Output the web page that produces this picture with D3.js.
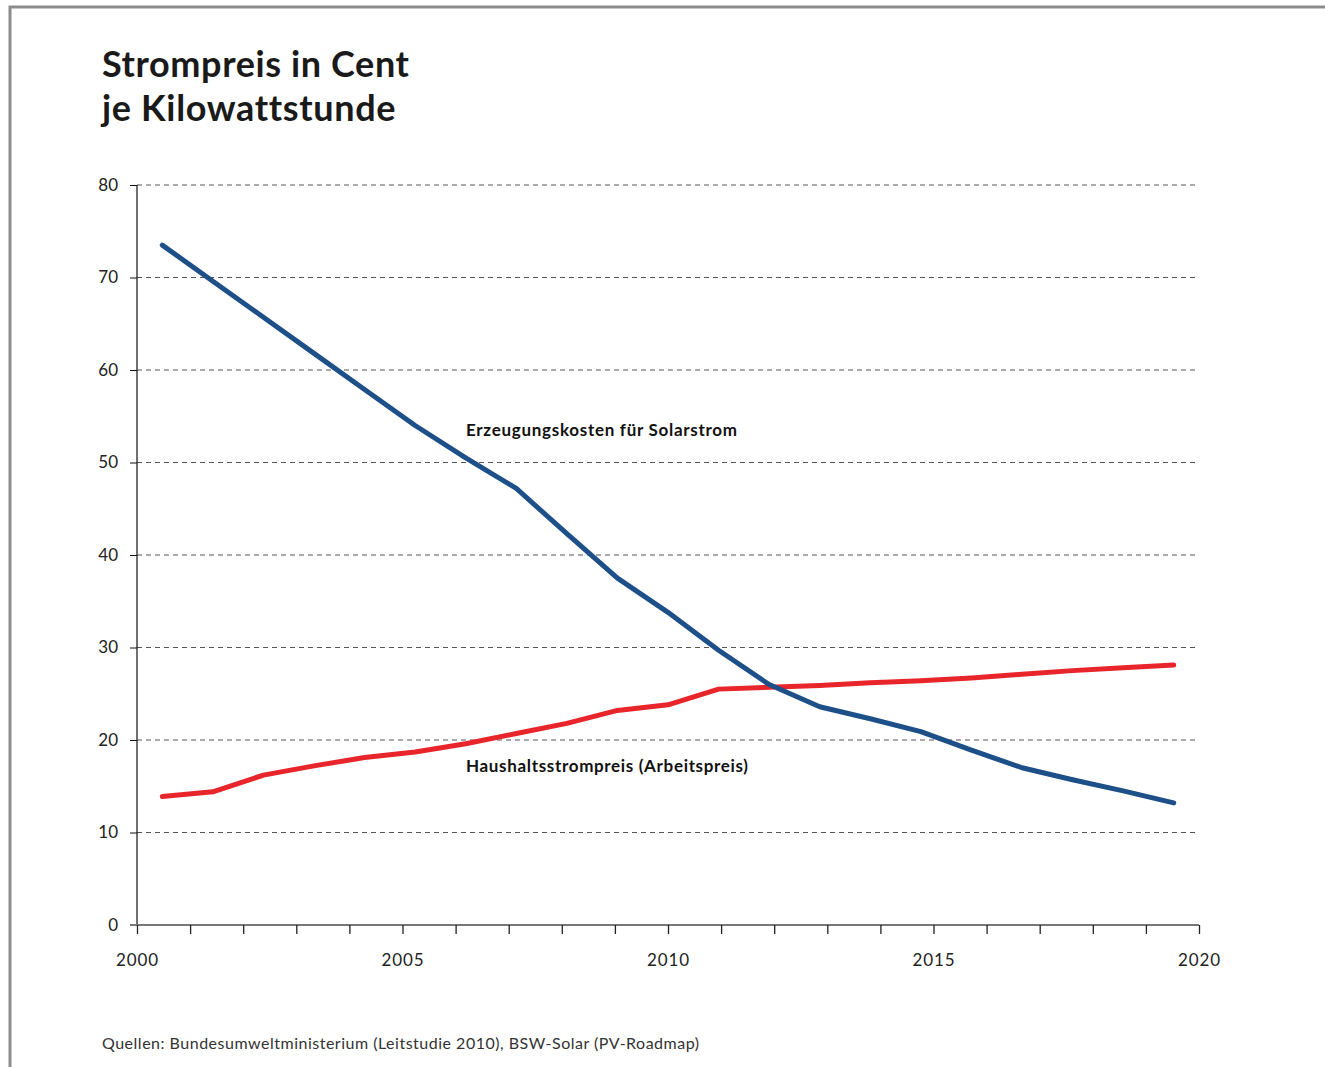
<!DOCTYPE html>
<html><head><meta charset="utf-8">
<script src="https://cdn.jsdelivr.net/npm/d3@7"></script>
<style>
body{margin:0;background:#fff;}
svg{display:block;font-family:Lato,"Open Sans",sans-serif;}
</style></head>
<body>
<script>
const years = d3.range(2000, 2021);
const solarCost = [73.5,69.6,65.7,61.8,57.9,54.0,50.5,47.2,42.3,37.5,33.8,29.7,26.0,23.6,22.3,20.9,18.9,17.0,15.7,14.5,13.2];
const householdPrice = [13.9,14.4,16.2,17.2,18.1,18.7,19.6,20.7,21.8,23.2,23.8,25.5,25.7,25.9,26.2,26.4,26.7,27.1,27.5,27.8,28.1];
const yTicks = [0,10,20,30,40,50,60,70,80];
const xTickLabels = [2000,2005,2010,2015,2020];
const titleLines = ["Strompreis in Cent","je Kilowattstunde"];
const seriesLabels = ["Erzeugungskosten für Solarstrom","Haushaltsstrompreis (Arbeitspreis)"];
const sourceText = "Quellen: Bundesumweltministerium (Leitstudie 2010), BSW-Solar (PV-Roadmap)";

const W = 1325, H = 1067;
const svg = d3.select("body").append("svg").attr("width", W).attr("height", H);

function fit(sel, target){
  sel.each(function(){
    const n = this.textContent.length;
    const w = this.getComputedTextLength();
    if (n > 1) d3.select(this).attr("letter-spacing", ((target - w)/(n-1)).toFixed(3));
  });
}

// frame
svg.append("path").attr("d", `M10,${H+5} L10,7 L${W+5},7`).attr("fill","none")
  .attr("stroke","#8c8c8c").attr("stroke-width",3);

const L = 137, R = 1199, T = 185, B = 925;
const xAxisScale = d3.scaleLinear().domain([2000,2020]).range([L,R]);
const xData = d3.scalePoint().domain(years).range([L,R]).padding(0.5);
const y = d3.scaleLinear().domain([0,80]).range([B,T]);

// title
const t1 = svg.append("text").attr("x",102).attr("y",77)
  .attr("font-size",36).attr("font-weight",700).attr("fill","#1a1a1a").text(titleLines[0]);
const t2 = svg.append("text").attr("x",102).attr("y",121)
  .attr("font-size",36).attr("font-weight",700).attr("fill","#1a1a1a").text(titleLines[1]);
fit(t1, 307); fit(t2, 292);

// grid
svg.append("g").selectAll("line").data(yTicks.filter(d=>d>0)).join("line")
  .attr("x1",L).attr("x2",1195).attr("y1",d=>y(d)).attr("y2",d=>y(d))
  .attr("stroke","#555").attr("stroke-width",1).attr("stroke-dasharray","5,4");

// y axis
const yAxis = svg.append("g").attr("transform",`translate(${L},0)`)
  .call(d3.axisLeft(y).tickValues(yTicks).tickSize(7).tickPadding(12));
yAxis.select(".domain").attr("stroke","#111").attr("stroke-width",1.2).attr("d",`M0,${T}V${B}`);
yAxis.selectAll(".tick line").attr("stroke","#111");
yAxis.selectAll("text").attr("font-size",17).attr("fill","#222").attr("font-family","Lato,sans-serif");

// x axis
const xAxis = svg.append("g").attr("transform",`translate(0,${B})`)
  .call(d3.axisBottom(xAxisScale).tickValues(years).tickSize(9).tickPadding(25)
    .tickFormat(d=>xTickLabels.includes(d)?String(d):""));
xAxis.select(".domain").attr("stroke","#777").attr("stroke-width",2).attr("d",`M${L-7},0H${R}`);
xAxis.selectAll(".tick line").attr("stroke","#222").attr("stroke-width",1.3);
xAxis.selectAll("text").attr("font-size",17).attr("fill","#222").attr("font-family","Lato,sans-serif")
  .attr("dy","0.4em");
fit(xAxis.selectAll("text").filter(function(){return this.textContent.length>0;}), 42);

// lines
const line = d3.line().x((d,i)=>xData(years[i])).y(d=>y(d));
svg.append("path").datum(householdPrice).attr("d",line).attr("fill","none")
  .attr("stroke","#e8252b").attr("stroke-width",5).attr("stroke-linecap","round").attr("stroke-linejoin","round");
svg.append("path").datum(solarCost).attr("d",line).attr("fill","none")
  .attr("stroke","#1d4f88").attr("stroke-width",5).attr("stroke-linecap","round").attr("stroke-linejoin","round");

// labels
const l1 = svg.append("text").attr("x",466).attr("y",436).attr("font-size",17).attr("font-weight",700)
  .attr("fill","#111").text(seriesLabels[0]);
const l2 = svg.append("text").attr("x",466).attr("y",772).attr("font-size",17).attr("font-weight",700)
  .attr("fill","#111").text(seriesLabels[1]);
fit(l1, 271); fit(l2, 282);

// source
const src = svg.append("text").attr("x",102).attr("y",1049).attr("font-size",16).attr("fill","#333").text(sourceText);
fit(src, 597);
</script>
</body></html>
